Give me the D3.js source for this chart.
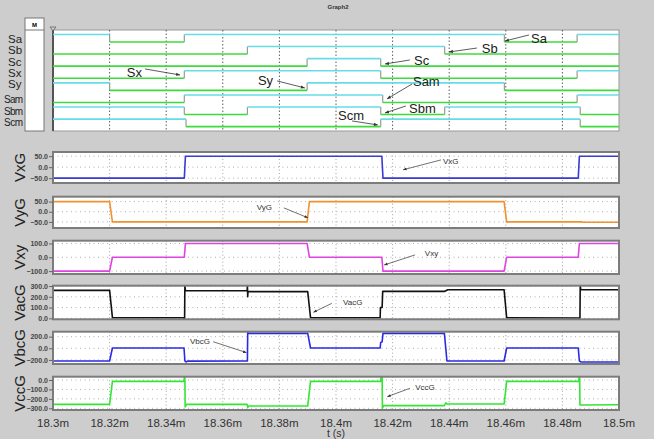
<!DOCTYPE html>
<html>
<head>
<meta charset="utf-8">
<script src="https://cdn.jsdelivr.net/npm/d3@7"></script>
<style>
  body { margin: 0; background: #cdcdcd; }
  svg { display: block; font-family: "Liberation Sans", Arial, sans-serif; }
</style>
</head>
<body>
<svg></svg>
<script>
// times are microseconds after 18.3 ms
const timeTicks = d3.range(0, 201, 20);
const timeTickLabels = ["18.3m", "18.32m", "18.34m", "18.36m", "18.38m", "18.4m", "18.42m", "18.44m", "18.46m", "18.48m", "18.5m"];

// switching signals: start level and edge times
const switchNames = ["Sa", "Sb", "Sc", "Sx", "Sy", "Sam", "Sbm", "Scm"];
const switchStart = [1, 0, 0, 0, 1, 0, 1, 1];
const switchEdges = [
    [20, 46.4, 159.5, 185.2],
    [68.7, 138.4],
    [89.8, 115.8],
    [46.4, 115.8, 185.2],
    [20, 89.8, 159.5],
    [46.4, 116.5, 185.2],
    [46.4, 68.7, 115.8, 138.4, 186.3],
    [47, 115.8, 186.3]
];

// analog traces [t, value]
const vxG = [[0, -50], [46.4, -50], [46.8, 50], [116.2, 50], [116.6, -50], [185.6, -50], [186, 50], [200, 50]];
const vyG = [[0, 50], [20, 50], [21, -50], [89.8, -50], [90.6, 50], [159.4, 50], [160.3, -50], [187, -50], [187.3, -52], [200, -52]];
const vxy = [[0, -100], [20, -100], [21, 0], [46.4, 0], [46.8, 100], [89.8, 100], [90.6, 0], [116.2, 0], [116.6, -100],
    [159.4, -100], [160.3, 0], [185.6, 0], [186, 100], [200, 100]];
const vacG = [[0, 260], [20, 260], [21, 6], [46, 6], [46.3, -5], [46.5, -5], [46.6, 305], [46.8, 258], [68.6, 256],
    [68.7, 305], [68.8, 200], [68.9, 248], [90, 248], [91, 6], [115.6, 6], [115.7, 100], [116.3, 100], [116.5, 250],
    [138.3, 250], [139.5, 265], [159.4, 265], [160.3, 6], [186.2, 3], [186.3, 305], [186.5, 265], [200, 265]];
const vbcG = [[0, -218], [20, -218], [21, 5], [46.3, 5], [46.6, -218], [47, -235], [47.5, -220], [68.7, -218],
    [68.8, 275], [69.2, 257], [90, 257], [91, 5], [115.6, 5], [115.8, 100], [116.3, 110], [116.6, 257], [138.3, 257],
    [139.2, -218], [159.4, -218], [160.3, 5], [185.6, 5], [186, -218], [186.5, -235], [200, -235]];
const vccG = [[0, -258], [20, -258], [21, -15], [46.3, -15], [46.4, 35], [46.6, 35], [46.7, -285], [47.2, -258],
    [68.6, -258], [68.8, -290], [69.2, -276], [90, -276], [91, -15], [115.8, -15], [115.9, 35], [116.3, 35],
    [116.4, -300], [116.8, -272], [138.3, -272], [138.8, -241], [139.3, -255], [159.4, -255], [160.3, -15],
    [185.8, -15], [185.9, 35], [186.1, 35], [186.2, -265], [200, -262]];

const panelNames = ["VxG", "VyG", "Vxy", "VacG", "VbcG", "VccG"];
const panelSeries = [vxG, vyG, vxy, vacG, vbcG, vccG];
const panelTicks = [[-50, 0, 50], [-50, 0, 50], [-100, 0, 100], [0, 100, 200, 300], [-200, 0, 200], [-300, -200, -100, 0]];
const panelDomains = [[-72, 69], [-80, 74], [-121, 120], [-9, 303], [-270, 285], [-318, 35]];
const panelColors = ["#3a3ad6", "#f0922e", "#e044e0", "#111111", "#2a2ae6", "#33e633"];

// annotations: label position, arrow start, arrow tip (time, value)
const switchNotes = [
    ["Sx", 26.1, 2.48, 32.5, 2.23, 44.9, 2.73],
    ["Sy", 72.4, 3.14, 79.2, 3.22, 89.0, 3.8],
    ["Sa", 168.9, -0.36, 168.2, -0.58, 159.7, -0.08],
    ["Sb", 151.5, 0.5, 149.8, 0.5, 139.9, 0.83],
    ["Sc", 127.6, 1.49, 126.1, 1.49, 117.3, 1.82],
    ["Sam", 127.2, 3.22, 126.9, 3.47, 118.0, 4.71],
    ["Sbm", 125.8, 5.45, 124.7, 5.29, 117.3, 5.87],
    ["Scm", 100.7, 6.03, 105.7, 6.53, 114.8, 6.86]
];
const panelNotes = [
    ["VxG", 137.8, 30, 137.1, 33, 123.7, -12],
    ["VyG", 72, 25, 81.6, 19, 90.1, -30],
    ["Vxy", 131.4, 33, 127.9, 17, 117, -56],
    ["VacG", 102.5, 154, 98.5, 139, 92, 56],
    ["VbcG", 48.4, 130, 56.6, 113, 68.4, -75],
    ["VccG", 128, -77, 126.1, -88, 118.1, -177]
];

const width = 654;
const height = 439;

const svg = d3.select("svg")
    .attr("width", width)
    .attr("height", height);

svg.append("rect")
    .attr("width", width)
    .attr("height", height)
    .attr("fill", "#cdcdcd");

svg.append("defs").append("marker")
    .attr("id", "arr")
    .attr("viewBox", "0 0 10 10")
    .attr("refX", 10)
    .attr("refY", 5)
    .attr("markerWidth", 6)
    .attr("markerHeight", 5)
    .attr("orient", "auto")
    .append("path")
    .attr("d", "M0,1L10,5L0,9z")
    .attr("fill", "#333");

const x = d3.scaleLinear().domain([0, 200]).range([53, 619]);

svg.append("text")
    .attr("x", 338).attr("y", 9)
    .attr("text-anchor", "middle")
    .attr("font-size", 6)
    .attr("font-weight", "bold")
    .attr("fill", "#333")
    .text("Graph2");

// ---- switching panel ----
const yDig = d3.scaleLinear().domain([-0.99, 7.36]).range([30, 131]);
const digital = svg.append("g");

digital.append("rect")
    .attr("x", 25).attr("y", 18).attr("width", 19).attr("height", 113)
    .attr("fill", "#fff").attr("stroke", "#777");
digital.append("line")
    .attr("x1", 25).attr("x2", 44).attr("y1", 30).attr("y2", 30)
    .attr("stroke", "#777");
digital.append("text")
    .attr("x", 34.5).attr("y", 26.5)
    .attr("text-anchor", "middle")
    .attr("font-size", 6).attr("font-weight", "bold")
    .text("M");

digital.append("rect")
    .attr("x", x(0)).attr("y", yDig.range()[0])
    .attr("width", x(200) - x(0)).attr("height", yDig.range()[1] - yDig.range()[0])
    .attr("fill", "#fff").attr("stroke", "#999");
digital.append("line")
    .attr("x1", x(0)).attr("x2", x(0))
    .attr("y1", 30).attr("y2", 131)
    .attr("stroke", "#555").attr("stroke-width", 2);
digital.append("path")
    .attr("d", `M${x(0) - 3},27L${x(0) + 3},27L${x(0)},31z`)
    .attr("fill", "none").attr("stroke", "#666").attr("stroke-width", 0.8);

digital.selectAll("line.vgrid")
    .data(timeTicks.slice(1, -1))
    .enter().append("line")
    .attr("class", "vgrid")
    .attr("x1", d => x(d)).attr("x2", d => x(d))
    .attr("y1", 30).attr("y2", 131)
    .attr("stroke", "#333").attr("stroke-width", 0.8)
    .attr("stroke-dasharray", "1.5,2");

switchNames.forEach((name, i) => {
    const times = [0, ...switchEdges[i], 200];
    const lvl = k => (switchStart[i] + k) % 2;
    const yAt = l => yDig(i - (l ? 0.62 : 0));

    switchEdges[i].forEach(t => {
        digital.append("line")
            .attr("x1", x(t)).attr("x2", x(t))
            .attr("y1", yAt(1)).attr("y2", yAt(0))
            .attr("stroke", "#9a9a9a").attr("stroke-width", 1.2);
    });
    d3.range(times.length - 1).forEach(k => {
        digital.append("line")
            .attr("x1", x(times[k])).attr("x2", x(times[k + 1]))
            .attr("y1", yAt(lvl(k))).attr("y2", yAt(lvl(k)))
            .attr("stroke", lvl(k) ? "#66dde6" : "#3ddc3d")
            .attr("stroke-width", 1.6);
    });

    const small = i >= 5;
    digital.append("text")
        .attr("x", small ? 4 : 8)
        .attr("y", small ? 103 + 11.6 * (i - 5) : 43 + 11.3 * i)
        .attr("font-size", small ? 10 : 11.5)
        .attr("fill", "#222")
        .attr("textLength", small ? 19 : null)
        .text(name);
});

switchNotes.forEach(([label, lt, lr, ft, fr, tt, tr]) => {
    digital.append("text")
        .attr("x", x(lt)).attr("y", yDig(lr) + 5)
        .attr("font-size", 13).attr("fill", "#222")
        .text(label);
    digital.append("line")
        .attr("x1", x(ft)).attr("y1", yDig(fr))
        .attr("x2", x(tt)).attr("y2", yDig(tr))
        .attr("stroke", "#333").attr("stroke-width", 0.8)
        .attr("marker-end", "url(#arr)");
});

// ---- analog panels ----
const panelTops = [152, 196.7, 240.7, 285.7, 331.7, 376.7];
const panelBottoms = [183, 228, 274, 319.3, 364, 410];

panelNames.forEach((name, i) => {
    const y = d3.scaleLinear().domain(panelDomains[i]).range([panelBottoms[i], panelTops[i]]);
    const g = svg.append("g");

    g.append("rect")
        .attr("x", x(0)).attr("y", panelTops[i])
        .attr("width", x(200) - x(0)).attr("height", panelBottoms[i] - panelTops[i])
        .attr("fill", "#fff");

    g.selectAll("line.h")
        .data(panelTicks[i])
        .enter().append("line")
        .attr("x1", x(0)).attr("x2", x(200))
        .attr("y1", d => y(d)).attr("y2", d => y(d))
        .attr("stroke", "#9a9a9a").attr("stroke-width", 0.8)
        .attr("stroke-dasharray", "1,3.5");
    g.selectAll("line.v")
        .data(timeTicks.slice(1, -1))
        .enter().append("line")
        .attr("x1", d => x(d)).attr("x2", d => x(d))
        .attr("y1", panelTops[i]).attr("y2", panelBottoms[i])
        .attr("stroke", "#8a8a8a").attr("stroke-width", 0.8)
        .attr("stroke-dasharray", "1,2.5");

    const clipId = "clip" + i;
    svg.select("defs").append("clipPath").attr("id", clipId)
        .append("rect")
        .attr("x", x(0)).attr("y", panelTops[i] - 1)
        .attr("width", x(200) - x(0)).attr("height", panelBottoms[i] - panelTops[i] + 2);

    const line = d3.line()
        .x(d => x(d[0]))
        .y(d => y(d[1]));

    g.append("path")
        .datum(panelSeries[i])
        .attr("clip-path", `url(#${clipId})`)
        .attr("fill", "none")
        .attr("stroke", panelColors[i])
        .attr("stroke-width", 1.6)
        .attr("stroke-linejoin", "round")
        .attr("d", line);

    g.append("rect")
        .attr("x", x(0)).attr("y", panelTops[i])
        .attr("width", x(200) - x(0)).attr("height", panelBottoms[i] - panelTops[i])
        .attr("fill", "none").attr("stroke", "#7c7c7c").attr("stroke-width", 2);

    const axis = g.append("g")
        .attr("transform", `translate(${x(0)},0)`)
        .call(d3.axisLeft(y).tickValues(panelTicks[i]).tickFormat(d3.format(".1f")).tickSize(4).tickPadding(1));
    axis.select(".domain").remove();
    axis.selectAll("line").attr("stroke", "#666");
    axis.selectAll("text")
        .attr("font-size", 7)
        .attr("font-weight", "bold")
        .attr("font-family", "Liberation Sans, Arial, sans-serif")
        .attr("fill", "#444");

    g.append("text")
        .attr("transform", `translate(25,${(panelTops[i] + panelBottoms[i]) / 2}) rotate(-90)`)
        .attr("text-anchor", "middle")
        .attr("font-size", 15)
        .attr("fill", "#222")
        .text(name);

    const [label, lt, lv, ft, fv, tt, tv] = panelNotes[i];
    g.append("text")
        .attr("x", x(lt)).attr("y", y(lv) + 3)
        .attr("font-size", 8).attr("fill", "#333")
        .text(label);
    g.append("line")
        .attr("x1", x(ft)).attr("y1", y(fv))
        .attr("x2", x(tt)).attr("y2", y(tv))
        .attr("stroke", "#333").attr("stroke-width", 0.7)
        .attr("marker-end", "url(#arr)");
});

// ---- time axis ----
svg.selectAll("text.tick")
    .data(timeTicks)
    .enter().append("text")
    .attr("class", "tick")
    .attr("x", d => x(d))
    .attr("y", 426.5)
    .attr("text-anchor", "middle")
    .attr("font-size", 11.5)
    .attr("fill", "#333")
    .text((d, i) => timeTickLabels[i]);

svg.append("text")
    .attr("x", 336).attr("y", 437)
    .attr("text-anchor", "middle")
    .attr("font-size", 10.5)
    .attr("fill", "#333")
    .text("t (s)");
</script>
</body>
</html>
